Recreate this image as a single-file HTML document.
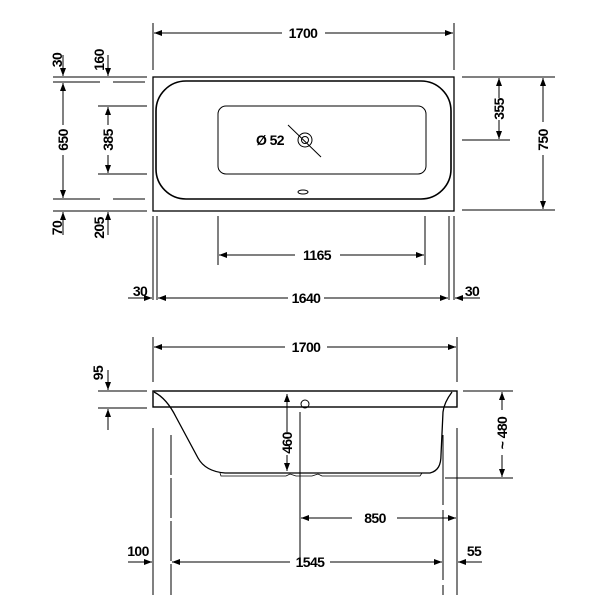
<!DOCTYPE html>
<html><head><style>
html,body{margin:0;padding:0;background:#fff;}
svg text{font-family:"Liberation Sans",sans-serif;font-weight:bold;font-size:14px;letter-spacing:-0.6px;fill:#000;}
</style></head><body>
<svg width="600" height="600" viewBox="0 0 600 600" xmlns="http://www.w3.org/2000/svg">
<defs>
<marker id="a" markerWidth="8" markerHeight="6" refX="8" refY="3" orient="auto" markerUnits="userSpaceOnUse"><path d="M0,0 L8,3 L0,6 z" fill="#000"/></marker>
</defs>
<g stroke="#000" stroke-width="1" fill="none">
<!-- TOP VIEW -->
<line x1="153" y1="23" x2="153" y2="70"/><line x1="454" y1="23" x2="454" y2="70"/>
<line x1="282" y1="33" x2="154" y2="33" marker-end="url(#a)"/>
<line x1="325" y1="33" x2="453" y2="33" marker-end="url(#a)"/>
<rect x="153" y="77" width="301" height="134" stroke-width="1.3"/>
<path d="M186,81 H421 A30,30 0 0 1 451,111 V169 A30,30 0 0 1 421,199 H186 A30,30 0 0 1 156,169 V111 A30,30 0 0 1 186,81 Z" stroke-width="1.6"/>
<rect x="218" y="106" width="208" height="68" rx="8"/>
<circle cx="305" cy="140" r="7"/><circle cx="305" cy="140" r="3.5"/>
<line x1="288" y1="125" x2="321" y2="157"/>
<ellipse cx="303" cy="192" rx="5" ry="2"/>
<!-- left dims top -->
<line x1="53" y1="77" x2="147" y2="77"/>
<line x1="53" y1="82" x2="100" y2="82"/><line x1="113" y1="82" x2="145" y2="82"/>
<line x1="98" y1="106" x2="147" y2="106"/><line x1="98" y1="174" x2="147" y2="174"/>
<line x1="53" y1="199" x2="100" y2="199"/><line x1="113" y1="199" x2="145" y2="199"/>
<line x1="53" y1="211" x2="147" y2="211"/>
<line x1="63" y1="55" x2="63" y2="76" marker-end="url(#a)"/>
<line x1="63" y1="125" x2="63" y2="83" marker-end="url(#a)"/>
<line x1="63" y1="155" x2="63" y2="198" marker-end="url(#a)"/>
<line x1="63" y1="235" x2="63" y2="212" marker-end="url(#a)"/>
<line x1="108" y1="55" x2="108" y2="76" marker-end="url(#a)"/>
<line x1="108" y1="125" x2="108" y2="107" marker-end="url(#a)"/>
<line x1="108" y1="155" x2="108" y2="173" marker-end="url(#a)"/>
<line x1="108" y1="235" x2="108" y2="212" marker-end="url(#a)"/>
<!-- right dims top -->
<line x1="462" y1="77" x2="555" y2="77"/><line x1="462" y1="140" x2="510" y2="140"/><line x1="462" y1="210" x2="555" y2="210"/>
<line x1="499" y1="98" x2="499" y2="78" marker-end="url(#a)"/>
<line x1="499" y1="120" x2="499" y2="139" marker-end="url(#a)"/>
<line x1="543" y1="122" x2="543" y2="78" marker-end="url(#a)"/>
<line x1="543" y1="155" x2="543" y2="209" marker-end="url(#a)"/>
<!-- below dims top -->
<line x1="218" y1="216" x2="218" y2="265"/><line x1="425" y1="216" x2="425" y2="265"/>
<line x1="295" y1="255" x2="219" y2="255" marker-end="url(#a)"/>
<line x1="340" y1="255" x2="424" y2="255" marker-end="url(#a)"/>
<line x1="153" y1="216" x2="153" y2="300"/><line x1="157" y1="216" x2="157" y2="300"/>
<line x1="449" y1="216" x2="449" y2="300"/><line x1="454" y1="216" x2="454" y2="300"/>
<line x1="288" y1="298" x2="158" y2="298" marker-end="url(#a)"/>
<line x1="324" y1="298" x2="448" y2="298" marker-end="url(#a)"/>
<line x1="128" y1="298" x2="152" y2="298" marker-end="url(#a)"/>
<line x1="480" y1="298" x2="455" y2="298" marker-end="url(#a)"/>
<!-- BOTTOM VIEW -->
<line x1="153" y1="337" x2="153" y2="382"/><line x1="457" y1="337" x2="457" y2="382"/>
<line x1="285" y1="347" x2="154" y2="347" marker-end="url(#a)"/>
<line x1="327" y1="347" x2="456" y2="347" marker-end="url(#a)"/>
<rect x="153" y="391" width="304" height="16" stroke-width="1.4"/>
<circle cx="305" cy="404" r="4"/>
<path d="M154,392 C164,397 171,407 176,417 L198,458 C203,467 212,472 225,473 H430 C438,471 441,465 441,455 L443,412 C444,403 449,396 452,392" stroke-width="1.3"/>
<path d="M220,473 L221,476 H286 L290,474 L296,476 H312 L318,474 L322,476 H420 L422,473" stroke-width="0.8"/>
<line x1="98" y1="391" x2="147" y2="391"/><line x1="98" y1="408" x2="147" y2="408"/>
<line x1="108" y1="370" x2="108" y2="390" marker-end="url(#a)"/>
<line x1="108" y1="430" x2="108" y2="409" marker-end="url(#a)"/>
<line x1="153" y1="428" x2="153" y2="595"/>
<line x1="171" y1="435" x2="171" y2="595" stroke-dasharray="40,3"/>
<line x1="443" y1="435" x2="443" y2="595" stroke-dasharray="70,5"/>
<line x1="457" y1="428" x2="457" y2="595"/>
<line x1="300" y1="412" x2="300" y2="560"/>
<line x1="287" y1="432" x2="287" y2="394" marker-end="url(#a)"/>
<line x1="287" y1="455" x2="287" y2="471" marker-end="url(#a)"/>
<line x1="463" y1="391" x2="513" y2="391"/><line x1="445" y1="478" x2="513" y2="478"/>
<line x1="502" y1="410" x2="502" y2="392" marker-end="url(#a)"/>
<line x1="502" y1="455" x2="502" y2="477" marker-end="url(#a)"/>
<line x1="352" y1="518" x2="301" y2="518" marker-end="url(#a)"/>
<line x1="397" y1="518" x2="456" y2="518" marker-end="url(#a)"/>
<line x1="290" y1="562" x2="172" y2="562" marker-end="url(#a)"/>
<line x1="330" y1="562" x2="442" y2="562" marker-end="url(#a)"/>
<line x1="128" y1="562" x2="152" y2="562" marker-end="url(#a)"/>
<line x1="482" y1="562" x2="458" y2="562" marker-end="url(#a)"/>
</g>
<text x="303" y="38" text-anchor="middle">1700</text>
<text x="317" y="260" text-anchor="middle">1165</text>
<text x="306" y="303" text-anchor="middle">1640</text>
<text x="140" y="296" text-anchor="middle">30</text>
<text x="472" y="296" text-anchor="middle">30</text>
<text x="270" y="145" text-anchor="middle">Ø 52</text>
<text transform="translate(62,60) rotate(-90)" text-anchor="middle">30</text>
<text transform="translate(104,60) rotate(-90)" text-anchor="middle">160</text>
<text transform="translate(68,140) rotate(-90)" text-anchor="middle">650</text>
<text transform="translate(113,140) rotate(-90)" text-anchor="middle">385</text>
<text transform="translate(62,228) rotate(-90)" text-anchor="middle">70</text>
<text transform="translate(104,228) rotate(-90)" text-anchor="middle">205</text>
<text transform="translate(504,109) rotate(-90)" text-anchor="middle">355</text>
<text transform="translate(548,140) rotate(-90)" text-anchor="middle">750</text>
<text x="306" y="352" text-anchor="middle">1700</text>
<text transform="translate(103,373) rotate(-90)" text-anchor="middle">95</text>
<text transform="translate(292,443) rotate(-90)" text-anchor="middle">460</text>
<text transform="translate(507,433) rotate(-90)" text-anchor="middle">~ 480</text>
<text x="375" y="523" text-anchor="middle">850</text>
<text x="310" y="567" text-anchor="middle">1545</text>
<text x="138" y="556" text-anchor="middle">100</text>
<text x="474" y="556" text-anchor="middle">55</text>
</svg>
</body></html>
